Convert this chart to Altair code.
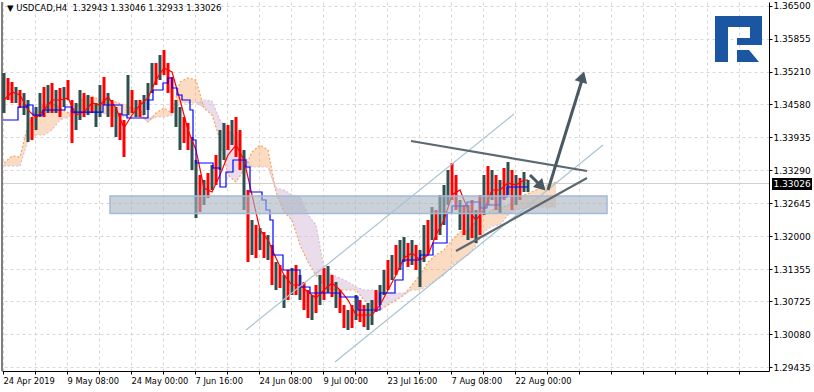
import altair as alt
import pandas as pd

# ------------------------------------------------------------------
# Data.  x = H4 bar number counted from the left
# edge of the chart, y = USDCAD price.
# ------------------------------------------------------------------
candle_bar = list(range(2, 527, 4))
candle_high = [
    1.35187, 1.35089, 1.35011, 1.34913, 1.34855, 1.34796, 1.34659, 1.34327, 1.34522, 1.34796,
    1.34913, 1.34952, 1.34991, 1.34855, 1.34894, 1.34913, 1.35050, 1.34659, 1.34600, 1.34855,
    1.34796, 1.34757, 1.34718, 1.34600, 1.34952, 1.35109, 1.34796, 1.34659, 1.34522, 1.34405,
    1.34268, 1.35148, 1.34855, 1.34659, 1.34659, 1.34757, 1.34991, 1.35382, 1.35382, 1.35539,
    1.35637, 1.35382, 1.35109, 1.34659, 1.34522, 1.34327, 1.34209, 1.33936, 1.33486, 1.33193,
    1.33095, 1.33232, 1.33388, 1.33584, 1.34073, 1.34209, 1.34170, 1.34268, 1.34327, 1.34073,
    1.33682, 1.32900, 1.32313, 1.32215, 1.32157, 1.32078, 1.32020, 1.31824, 1.31492, 1.31433,
    1.31238, 1.31336, 1.31375, 1.31433, 1.31238, 1.31101, 1.30945, 1.30847, 1.31042, 1.31238,
    1.31375, 1.31414, 1.31238, 1.31101, 1.30945, 1.30651, 1.30554, 1.30651, 1.30847, 1.30749,
    1.30651, 1.30690, 1.30749, 1.30945, 1.31042, 1.31336, 1.31531, 1.31629, 1.31824, 1.31922,
    1.31981, 1.31863, 1.31922, 1.31824, 1.31727, 1.32215, 1.32313, 1.32567, 1.32509, 1.32802,
    1.32997, 1.33291, 1.33427, 1.33193, 1.32704, 1.32606, 1.32606, 1.32704, 1.32509, 1.32802,
    1.33193, 1.33369, 1.33291, 1.33193, 1.33095, 1.33330, 1.33447, 1.33291, 1.33193, 1.33134,
    1.33251, 1.33095,
]
candle_low = [
    1.34405, 1.34659, 1.34600, 1.34600, 1.34503, 1.34366, 1.33838, 1.33877, 1.34073, 1.34327,
    1.34327, 1.34405, 1.34405, 1.34405, 1.34327, 1.34522, 1.34659, 1.33818, 1.34073, 1.34268,
    1.34327, 1.34366, 1.34405, 1.34131, 1.34327, 1.34561, 1.34327, 1.34131, 1.33936, 1.33877,
    1.33545, 1.34366, 1.34405, 1.34327, 1.34327, 1.34366, 1.34464, 1.34796, 1.34952, 1.35050,
    1.35148, 1.34796, 1.34405, 1.34131, 1.33682, 1.33818, 1.33682, 1.33291, 1.32352, 1.32469,
    1.32606, 1.32743, 1.32900, 1.32997, 1.33291, 1.33486, 1.33682, 1.33779, 1.33545, 1.33291,
    1.32509, 1.31492, 1.31629, 1.31570, 1.31727, 1.31570, 1.31531, 1.31042, 1.30945, 1.30984,
    1.30593, 1.30749, 1.30847, 1.30847, 1.30749, 1.30554, 1.30397, 1.30358, 1.30495, 1.30651,
    1.30749, 1.30886, 1.30808, 1.30593, 1.30495, 1.30202, 1.30163, 1.30202, 1.30358, 1.30319,
    1.30221, 1.30163, 1.30260, 1.30514, 1.30651, 1.30847, 1.30945, 1.31140, 1.31238, 1.31336,
    1.31492, 1.31394, 1.31433, 1.31336, 1.31003, 1.31492, 1.31629, 1.31922, 1.31922, 1.32020,
    1.32215, 1.32606, 1.32704, 1.32509, 1.32118, 1.32020, 1.31922, 1.31961, 1.31863, 1.32020,
    1.32411, 1.32606, 1.32704, 1.32509, 1.32450, 1.32704, 1.32802, 1.32509, 1.32606, 1.32704,
    1.32860, 1.32860,
]
# D = bullish (dark) bar, R = bearish (red) bar
candle_dir = ("DRRDRDDRDD" "RDRDRDRRDD" "RDRDDRDRDR" "RDRDRDDDRD" "RRRDDRRDDR"
              "DRDRDDRDRR" "DRDRDRDRDR" "DRDRDRRDRD" "RDRDRRDRDR" "RDDRDDRDRD"
              "DRDRDDRDRD" "DDRRDRDRDR" "DRDRDRDRDR" "DD")

# Ichimoku: Tenkan-sen (red)
tenkan_bar = list(range(2, 523, 8)) + [526]
tenkan = [
    1.34659, 1.34815, 1.34757, 1.34464, 1.34307, 1.34464, 1.34659, 1.34659, 1.34698, 1.34366,
    1.34424, 1.34600, 1.34561, 1.34718, 1.34503, 1.34112, 1.34366, 1.34561, 1.34698, 1.35050,
    1.35285, 1.35206, 1.34659, 1.34073, 1.33682, 1.32939, 1.32860, 1.33193, 1.33584, 1.33779,
    1.33486, 1.32802, 1.32118, 1.31922, 1.31570, 1.31238, 1.31042, 1.31042, 1.30905, 1.30788,
    1.30945, 1.31081, 1.30945, 1.30749, 1.30456, 1.30456, 1.30456, 1.30651, 1.30945, 1.31238,
    1.31570, 1.31668, 1.31531, 1.31629, 1.32020, 1.32313, 1.32802, 1.32900, 1.32509, 1.32313,
    1.32509, 1.32900, 1.32900, 1.33036, 1.32997, 1.33095, 1.33095,
]
# Ichimoku: Kijun-sen (blue, stepped)
kijun_bar = [1, 16, 25, 31, 41, 63, 70, 101, 120, 125, 146, 151, 161, 166, 170, 175, 180,
             188, 191, 194, 211, 218, 224, 231, 244, 248, 260, 264, 268, 271, 281, 298, 308,
             338, 356, 378, 393, 401, 418, 431, 445, 450, 465, 478, 485, 498, 505, 526]
kijun = [1.34268, 1.34522, 1.34561, 1.34366, 1.34464, 1.34522, 1.34424, 1.34561, 1.34366,
         1.34307, 1.34659, 1.34855, 1.34991, 1.35089, 1.34894, 1.34757, 1.34659, 1.34464,
         1.33877, 1.33427, 1.33330, 1.32958, 1.33251, 1.33486, 1.33349, 1.32860, 1.32704,
         1.32509, 1.32313, 1.31629, 1.31336, 1.31003, 1.30886, 1.30808, 1.30554, 1.30886,
         1.31140, 1.31531, 1.31629, 1.31863, 1.32450, 1.32587, 1.32665, 1.32548, 1.32606,
         1.32763, 1.32958, 1.32958]
# Ichimoku cloud: Senkou span A (sandy brown) and B (thistle)
cloud_bar = list(range(2, 555, 8))
span_a = [
    1.33427, 1.33564, 1.33545, 1.34170, 1.34464, 1.34561, 1.34600, 1.34503, 1.34405, 1.34503,
    1.34718, 1.34737, 1.34659, 1.34659, 1.34620, 1.34561, 1.34503, 1.34464, 1.34229, 1.34405,
    1.34503, 1.34405, 1.35011, 1.35089, 1.35050, 1.34503, 1.34366, 1.33877, 1.33193, 1.33056,
    1.33291, 1.33642, 1.33779, 1.33682, 1.32860, 1.32469, 1.32313, 1.31824, 1.31492, 1.31238,
    1.31023, 1.30945, 1.30945, 1.30945, 1.30945, 1.30749, 1.30593, 1.30554, 1.30651, 1.30749,
    1.30847, 1.31042, 1.31238, 1.31492, 1.31629, 1.31727, 1.31922, 1.32078, 1.32118, 1.32274,
    1.32411, 1.32509, 1.32548, 1.32606, 1.32743, 1.32802, 1.32860, 1.32939, 1.32997, 1.33056,
]
span_b = [
    1.33369, 1.33369, 1.33369, 1.33877, 1.33975, 1.33975, 1.34073, 1.34268, 1.34327, 1.34405,
    1.34424, 1.34424, 1.34424, 1.34366, 1.34327, 1.34327, 1.34327, 1.34327, 1.34327, 1.34327,
    1.34327, 1.34366, 1.34600, 1.34600, 1.34600, 1.34659, 1.34639, 1.34268, 1.34073, 1.33916,
    1.33584, 1.33349, 1.33349, 1.33349, 1.32939, 1.32900, 1.32802, 1.32763, 1.32411, 1.32215,
    1.31375, 1.31238, 1.31179, 1.31101, 1.31003, 1.30945, 1.30945, 1.30905, 1.30905, 1.30886,
    1.30886, 1.30945, 1.30945, 1.31042, 1.31140, 1.31238, 1.31433, 1.31531, 1.31629, 1.31824,
    1.32078, 1.32196, 1.32215, 1.32411, 1.32509, 1.32548, 1.32567, 1.32567, 1.32567, 1.32567,
]
last_price = 1.33026
title_text = "\u25BC USDCAD,H4\u00a0\u00a01.32943 1.33046 1.32933 1.33026"

# axis ticks and labels
y_ticks = [1.36500, 1.35855, 1.35210, 1.34580, 1.33935, 1.33290, 1.32645, 1.32000,
           1.31355, 1.30725, 1.30080, 1.29435]
x_ticks = [1 + 32 * k for k in range(24)]
label_bars = [1, 65, 129, 193, 257, 321, 385, 449, 513]
time_labels = ["24 Apr 2019", "9 May 08:00", "24 May 00:00", "7 Jun 16:00", "24 Jun 08:00",
               "9 Jul 00:00", "23 Jul 16:00", "7 Aug 08:00", "22 Aug 00:00"]

# hand-drawn annotations (bar, price)
zone = {"x": 108, "x2": 605, "y": 1.32780, "y2": 1.32440}
channel_lines = [(244, 1.30163, 512, 1.34385), (333, 1.29537, 601, 1.33779)]
trend_lines = [(409, 1.33857, 585, 1.33271), (454, 1.31707, 585, 1.33134)]
arrow_shafts = [(528, 1.33193, 541, 1.32939), (546, 1.32900, 580, 1.35050)]
arrow_heads = [(539.5, 1.32968, 135), (580.5, 1.35113, 17)]
# RoboForex logo pieces (bar, price)
logo_rects = [(713, 726, 1.35402, 1.36301), (713, 760, 1.36086, 1.36301),
              (748, 760, 1.35734, 1.36301), (735, 760, 1.35734, 1.35871)]
logo_leg_bar = [735, 747, 757]
logo_leg_top = [1.35637, 1.35637, 1.35402]
logo_leg_bot = [1.35402, 1.35402, 1.35402]
# header text anchor (bar, price)
title_pos = (5, 1.36406)

assert len(candle_high) == len(candle_low) == len(candle_dir) == len(candle_bar)
assert len(tenkan) == len(tenkan_bar)
assert len(kijun) == len(kijun_bar)
assert len(span_a) == len(span_b) == len(cloud_bar)

# ------------------------------------------------------------------
candles = pd.DataFrame({"bar": candle_bar, "high": candle_high, "low": candle_low,
                        "dir": ["up" if c == "D" else "down" for c in candle_dir]})
tk = pd.DataFrame({"bar": tenkan_bar, "v": tenkan})
kj = pd.DataFrame({"bar": kijun_bar, "v": kijun})
cloud = pd.DataFrame({"bar": cloud_bar, "a": span_a, "b": span_b})
cloud["lo"] = cloud[["a", "b"]].min(axis=1)

xs = alt.Scale(domain=[0, 767], nice=False, zero=False)
ys = alt.Scale(domain=[1.29361, 1.36575], nice=False, zero=False)
FONT = "DejaVu Sans"

expr = "".join(f"datum.value == {b} ? '{t}' : " for b, t in zip(label_bars, time_labels)) + "''"
x_axis = alt.Axis(values=x_ticks, labelExpr=expr, title=None, orient="bottom", grid=True,
                  gridDash=[3, 3], gridColor="#d6d6d6", domainColor="black", tickColor="black",
                  tickSize=3, labelAlign="left", labelPadding=2, labelFont=FONT,
                  labelFontSize=8.3, labelColor="black", labelOverlap=False, labelFlush=False,
                  labelBound=False)
y_axis = alt.Axis(values=y_ticks, format=".5f", orient="right", title=None, grid=True,
                  gridDash=[3, 3], gridColor="#d6d6d6", domainColor="black", tickColor="black",
                  tickSize=3, labelPadding=1, labelFont=FONT, labelFontSize=9,
                  labelColor="black", labelOverlap=False, labelFlush=False)


def X(f):
    return alt.X(f, type="quantitative", scale=xs, axis=x_axis)


def Y(f):
    return alt.Y(f, type="quantitative", scale=ys, axis=y_axis)


SANDY, THISTLE = "#f4a460", "#d8bfd8"

sandy_area = alt.Chart(cloud).mark_area(color=SANDY, opacity=0.38).encode(
    x=X("bar"), y=Y("a"), y2="lo")
thistle_area = alt.Chart(cloud).mark_area(color=THISTLE, opacity=0.55).encode(
    x=X("bar"), y=Y("b"), y2="lo")
sandy_edge = alt.Chart(cloud).mark_line(color=SANDY, strokeWidth=1.2, strokeDash=[2, 2]).encode(
    x=X("bar"), y=Y("a"))
thistle_edge = alt.Chart(cloud).mark_line(color=THISTLE, strokeWidth=1.2, strokeDash=[2, 2]).encode(
    x=X("bar"), y=Y("b"))

price_line = alt.Chart(pd.DataFrame({"x": [0], "x2": [767], "y": [last_price]})).mark_rule(
    color="#cfcfcf", strokeWidth=1).encode(x=X("x"), x2="x2", y=Y("y"))

bars = alt.Chart(candles).mark_rule(strokeWidth=3).encode(
    x=X("bar"), y=Y("low"), y2="high",
    color=alt.Color("dir:N", scale=alt.Scale(domain=["up", "down"], range=["#2f4f4f", "#ff0000"]),
                    legend=None))

tenkan_line = alt.Chart(tk).mark_line(color="#ff0000", strokeWidth=1.2).encode(x=X("bar"), y=Y("v"))
kijun_line = alt.Chart(kj).mark_line(color="#0000ff", strokeWidth=1.2, interpolate="step-after").encode(
    x=X("bar"), y=Y("v"))

zone_rect = alt.Chart(pd.DataFrame([zone])).mark_rect(
    fill="#a9b5c1", fillOpacity=0.62, stroke="#a4bad8", strokeWidth=1.5).encode(
    x=X("x"), x2="x2", y=Y("y"), y2="y2")


def seg_df(segs):
    return pd.DataFrame(segs, columns=["x", "y", "x2", "y2"])


channels = alt.Chart(seg_df(channel_lines)).mark_rule(color="#a9c3d2", strokeWidth=1.2).encode(
    x=X("x"), y=Y("y"), x2="x2", y2="y2")
trends = alt.Chart(seg_df(trend_lines)).mark_rule(color="#5d6870", strokeWidth=2.2).encode(
    x=X("x"), y=Y("y"), x2="x2", y2="y2")
shafts = alt.Chart(seg_df(arrow_shafts)).mark_rule(color="#4a5863", strokeWidth=3).encode(
    x=X("x"), y=Y("y"), x2="x2", y2="y2")
heads = [
    alt.Chart(pd.DataFrame({"x": [hx], "y": [hy]})).mark_point(
        shape="triangle-up", filled=True, size=170, color="#4a5863", opacity=1, angle=ang).encode(
        x=X("x"), y=Y("y"))
    for hx, hy, ang in arrow_heads
]

logo_df = pd.DataFrame(logo_rects, columns=["x", "x2", "y", "y2"])
logo = alt.Chart(logo_df).mark_rect(color="#1b56a3").encode(x=X("x"), x2="x2", y=Y("y"), y2="y2")
logo_leg = alt.Chart(pd.DataFrame({"x": logo_leg_bar, "t": logo_leg_top, "b": logo_leg_bot})).mark_area(
    color="#1b56a3").encode(x=X("x"), y=Y("t"), y2="b")

left_border = alt.Chart(pd.DataFrame({"x": [0]})).mark_rule(color="black", strokeWidth=1).encode(x=X("x"))

price_box = alt.Chart(pd.DataFrame({"x": [770], "x2": [810], "y": [1.33134], "y2": [1.32900]})).mark_rect(
    color="black").encode(x=X("x"), x2="x2", y=Y("y"), y2="y2")
price_text = alt.Chart(pd.DataFrame({"x": [771.5], "y": [last_price], "t": [f"{last_price:.5f}"]})).mark_text(
    color="white", align="left", baseline="middle", font=FONT, fontSize=9).encode(
    x=X("x"), y=Y("y"), text="t:N")

header = alt.Chart(pd.DataFrame({"x": [title_pos[0]], "y": [title_pos[1]], "t": [title_text]})).mark_text(
    color="black", align="left", baseline="alphabetic", font=FONT, fontSize=8.5).encode(
    x=X("x"), y=Y("y"), text="t:N")

chart = alt.layer(
    sandy_area, thistle_area, sandy_edge, thistle_edge, price_line, bars, tenkan_line,
    kijun_line, zone_rect, channels, trends, shafts, *heads, logo, logo_leg, left_border,
    price_box, price_text, header,
).properties(
    width=767, height=369,
    padding={"left": 2, "top": 2, "right": 45, "bottom": 21},
    autosize="none",
    background="white",
).configure_view(stroke=None)

chart.save("out.html", embed_options={"renderer": "svg", "actions": False})
